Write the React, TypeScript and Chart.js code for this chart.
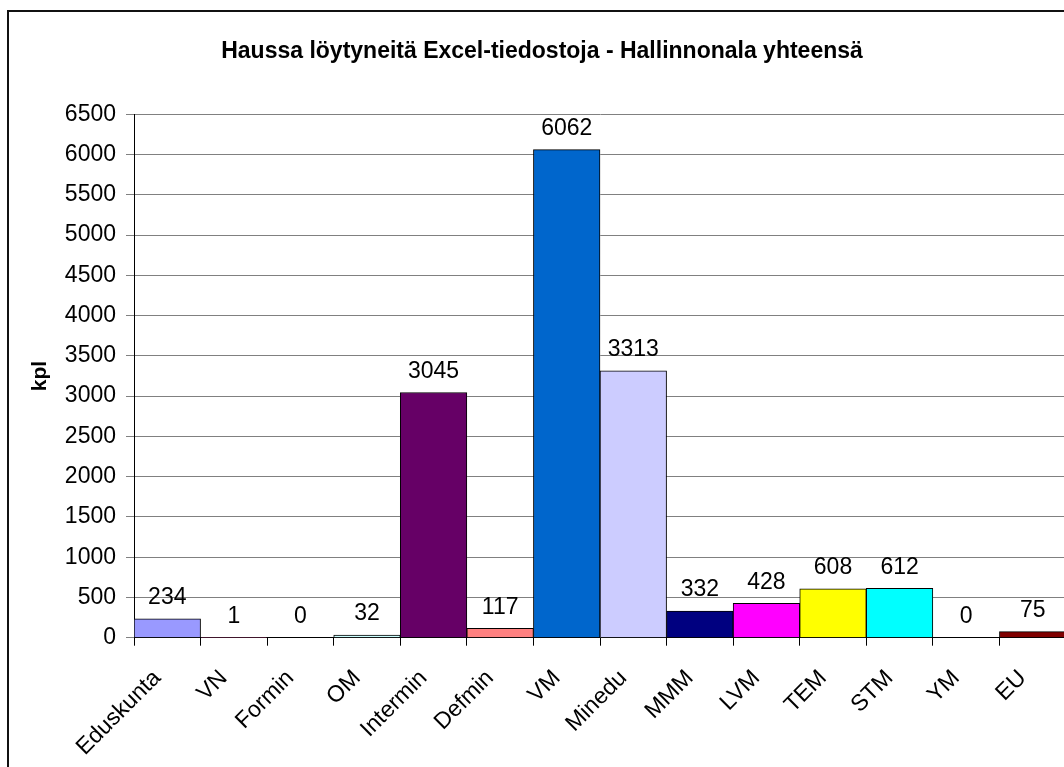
import React, { useEffect, useRef } from 'react';
import { Chart, registerables } from 'chart.js';

Chart.register(...registerables);

const categories = ['Eduskunta', 'VN', 'Formin', 'OM', 'Intermin', 'Defmin', 'VM', 'Minedu', 'MMM', 'LVM', 'TEM', 'STM', 'YM', 'EU'];
const counts = [234, 1, 0, 32, 3045, 117, 6062, 3313, 332, 428, 608, 612, 0, 75];
const barColors = ['#9999FF', '#993366', '#FFFFCC', '#CCFFFF', '#660066', '#FF8080', '#0066CC', '#CCCCFF', '#000080', '#FF00FF', '#FFFF00', '#00FFFF', '#800080', '#800000'];
const chartTitle = 'Haussa löytyneitä Excel-tiedostoja - Hallinnonala yhteensä';
const yAxisTitle = 'kpl';
const yMin = 0;
const yMax = 6500;
const yStep = 500;

const FONT = "Arial, 'Liberation Sans', sans-serif";

const valueLabels = {
  id: 'valueLabels',
  afterDatasetsDraw(chart: any) {
    const ctx = chart.ctx;
    const meta = chart.getDatasetMeta(0);
    const data = chart.data.datasets[0].data;
    ctx.save();
    ctx.font = `23px ${FONT}`;
    ctx.fillStyle = '#000';
    ctx.textAlign = 'center';
    ctx.textBaseline = 'middle';
    meta.data.forEach((bar: any, i: number) => {
      ctx.fillText(String(data[i]), bar.x, bar.y - 21);
    });
    ctx.restore();
  },
};

export default function App() {
  const canvasRef = useRef<HTMLCanvasElement | null>(null);

  useEffect(() => {
    if (!canvasRef.current) return;
    const chart = new Chart(canvasRef.current, {
      type: 'bar',
      data: {
        labels: categories,
        datasets: [
          {
            data: counts,
            backgroundColor: barColors,
            borderColor: '#000',
            borderWidth: 1,
            categoryPercentage: 1,
            barPercentage: 1,
          },
        ],
      },
      options: {
        responsive: false,
        animation: false,
        devicePixelRatio: 1,
        layout: { padding: { left: 18, right: 18, top: 0, bottom: 0 } },
        plugins: {
          legend: { display: false },
          tooltip: { enabled: false },
          title: {
            display: true,
            text: chartTitle,
            color: '#000',
            font: { family: FONT, size: 23, weight: 'bold', lineHeight: 1.2 },
            padding: { top: 38, bottom: 48.7 },
          },
        },
        scales: {
          x: {
            offset: true,
            grid: {
              offset: true,
              drawOnChartArea: false,
              drawTicks: true,
              tickLength: 8,
              color: '#000',
            },
            border: { color: '#000', width: 1 },
            ticks: {
              color: '#000',
              font: { family: FONT, size: 23 },
              minRotation: 45,
              maxRotation: 45,
              autoSkip: false,
              padding: 19,
              labelOffset: -10,
            },
            afterFit: (scale: any) => {
              scale.height = 767 - 637.7;
            },
          },
          y: {
            min: yMin,
            max: yMax,
            grid: { color: '#808080', lineWidth: 1, tickLength: 8 },
            border: { color: '#000', width: 1 },
            ticks: {
              stepSize: yStep,
              color: '#000',
              font: { family: FONT, size: 23 },
              padding: 10,
              callback: (v: any) => String(v),
            },
            title: {
              display: true,
              text: yAxisTitle,
              color: '#000',
              font: { family: FONT, size: 21, weight: 'bold', lineHeight: 1.2 },
              padding: { top: 9.5, bottom: 0 },
            },
            afterFit: (scale: any) => {
              scale.width = 116;
            },
          },
        },
      },
      plugins: [valueLabels],
    } as any);
    return () => chart.destroy();
  }, []);

  return (
    <div
      style={{
        position: 'fixed',
        left: 0,
        top: 0,
        width: 1064,
        height: 767,
        overflow: 'hidden',
        background: '#fff',
      }}
    >
      <div
        style={{
          position: 'absolute',
          left: 7,
          top: 10,
          width: 1200,
          height: 900,
          border: '2px solid #111',
          boxSizing: 'border-box',
        }}
      />
      <canvas
        ref={canvasRef}
        width={1084}
        height={767}
        style={{ position: 'absolute', left: 0, top: 0, width: 1084, height: 767 }}
      />
    </div>
  );
}
